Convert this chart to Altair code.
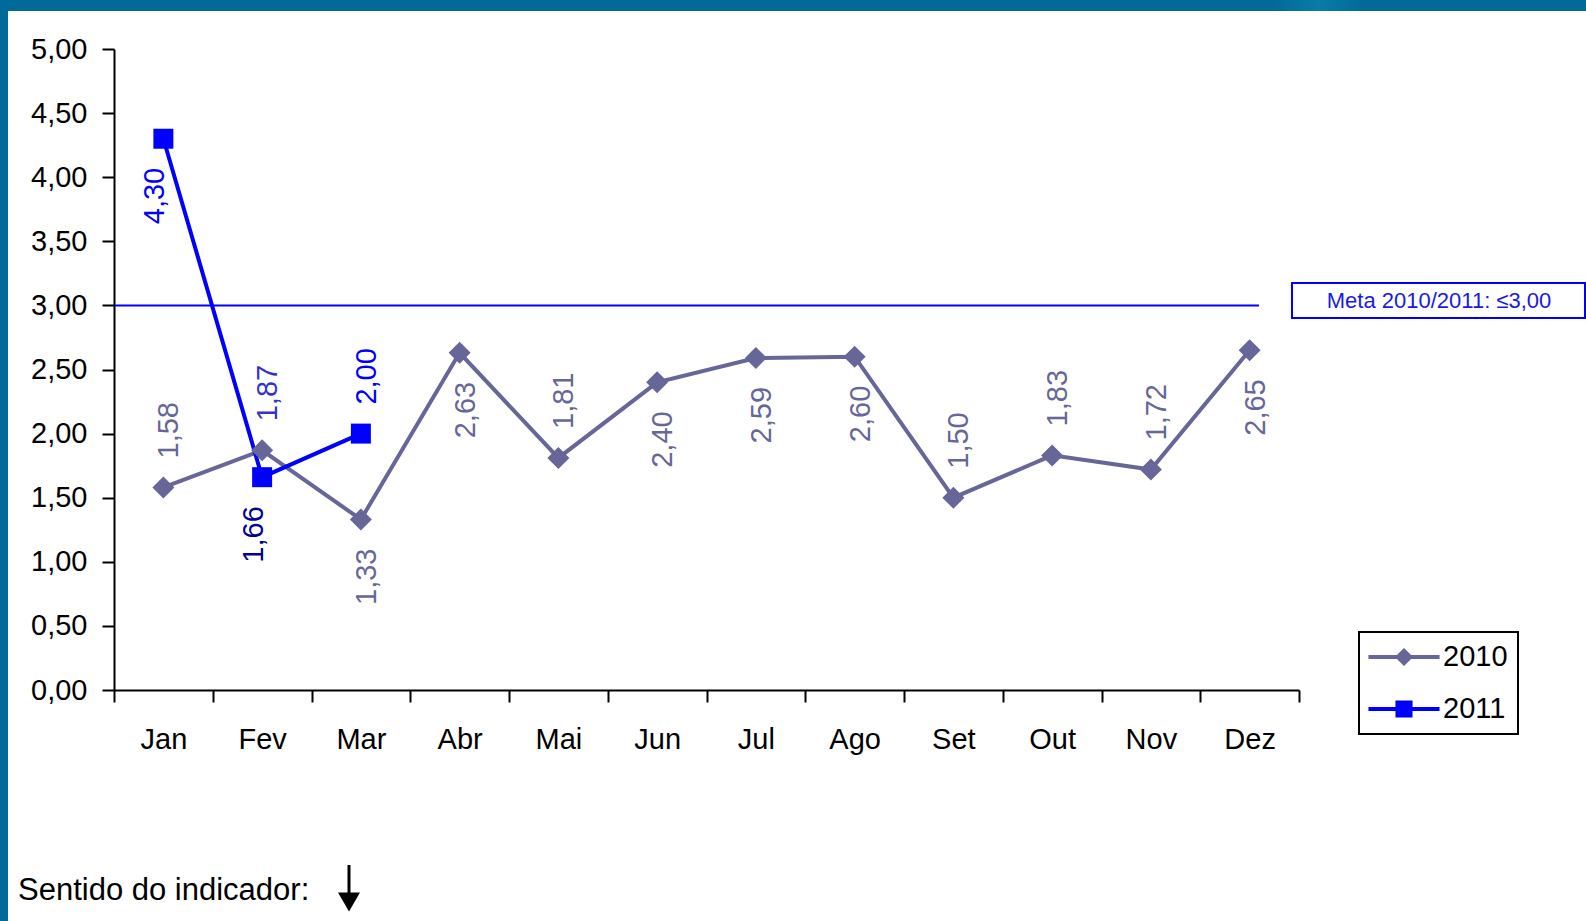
import altair as alt
import pandas as pd

# Monthly indicator values
MONTHS = ["Jan", "Fev", "Mar", "Abr", "Mai", "Jun", "Jul", "Ago", "Set", "Out", "Nov", "Dez"]
VALUES_2010 = [1.58, 1.87, 1.33, 2.63, 1.81, 2.40, 2.59, 2.60, 1.50, 1.83, 1.72, 2.65]
VALUES_2011 = [4.30, 1.66, 2.00]
META = 3.00
YEARS = ["2010", "2011"]

# Months whose value label sits under the point
LABEL_BELOW = {"2010": {"Mar", "Abr", "Jun", "Jul", "Ago", "Dez"}, "2011": {"Jan", "Fev"}}

C2010 = "#666699"
C2011 = "#0000ff"
FONT = "Liberation Sans"

W, H = 1185, 641
PAD = {"left": 114, "top": 49, "right": 287, "bottom": 231}


def fmt(v):
    return f"{v:.2f}".replace(".", ",")


rows = []
for year, vals in (("2010", VALUES_2010), ("2011", VALUES_2011)):
    for i, v in enumerate(vals):
        rows.append({"month": MONTHS[i], "pos": i + 0.5, "year": year, "value": v,
                     "label": fmt(v), "below": MONTHS[i] in LABEL_BELOW[year]})
df = pd.DataFrame(rows)

x_axis = alt.Axis(values=list(range(13)), labelExpr="['" + "','".join(MONTHS) + "'][datum.value] || ''",
                  labelOffset=W / 24, labelFont=FONT, labelFontSize=29, labelColor="black",
                  labelPadding=23, labelOverlap=False, labelBound=False, labelFlush=False,
                  tickSize=12, tickWidth=2, tickColor="black", domainColor="black", domainWidth=2,
                  grid=False, title=None)
y_axis = alt.Axis(values=[i / 2 for i in range(11)],
                  labelExpr="replace(format(datum.value, '.2f'), '.', ',')",
                  labelFont=FONT, labelFontSize=29, labelColor="black", labelPadding=15,
                  tickSize=12, tickWidth=2, tickColor="black", domainColor="black", domainWidth=2,
                  grid=False, title=None)

X = alt.X("pos:Q", scale=alt.Scale(domain=[0, 12], nice=False, zero=False), axis=x_axis)
Y = alt.Y("value:Q", scale=alt.Scale(domain=[0, 5], nice=False), axis=y_axis)

base = alt.Chart(df)
d10 = base.transform_filter("datum.year == '2010'")
d11 = base.transform_filter("datum.year == '2011'")

line10 = d10.mark_line(color=C2010, strokeWidth=4).encode(x=X, y=Y)
pts10 = d10.mark_point(shape="diamond", filled=True, size=484, color=C2010, opacity=1).encode(x=X, y=Y)
line11 = d11.mark_line(color=C2011, strokeWidth=4).encode(x=X, y=Y)
pts11 = d11.mark_point(shape="square", filled=True, size=400, color=C2011, opacity=1).encode(x=X, y=Y)

GAP = 29


def labels(src, color, fev_color, shift_above, shift_below):
    col = alt.condition("datum.month == 'Fev'", alt.value(fev_color), alt.value(color))
    above = src.transform_filter("!datum.below").mark_text(
        angle=270, align="left", baseline="middle", dx=GAP, dy=shift_above, font=FONT, fontSize=29
    ).encode(x=X, y=Y, text="label:N", color=col)
    below = src.transform_filter("datum.below").mark_text(
        angle=270, align="right", baseline="middle", dx=-GAP, dy=shift_below, font=FONT, fontSize=29
    ).encode(x=X, y=Y, text="label:N", color=col)
    return above + below


lab10 = labels(d10, C2010, "#3333cc", 6, 6)
lab11 = labels(d11, C2011, "#000099", 6, -8)

# Legend: line with marker drawn as one filled path per series
SYM10 = "M-2.37,-0.13H-0.47L0,-0.6L0.47,-0.13H2.37V0.13H0.47L0,0.6L-0.47,0.13H-2.37Z"
SYM11 = "M-2.37,-0.13H-0.57V-0.57H0.57V-0.13H2.37V0.13H0.57V0.57H-0.57V0.13H-2.37Z"
legend_layer = base.mark_point(filled=True, opacity=0).encode(
    x=X, y=Y,
    color=alt.Color("year:N", scale=alt.Scale(domain=YEARS, range=[C2010, C2011]),
                    legend=alt.Legend(title=None, orient="none", legendX=1245, legendY=583,
                                      symbolOpacity=1, symbolSize=900, symbolStrokeWidth=0,
                                      labelFont=FONT, labelFontSize=29, labelColor="black",
                                      labelOffset=24, symbolOffset=20, padding=10, rowPadding=22,
                                      strokeColor="black")),
    shape=alt.Shape("year:N", scale=alt.Scale(domain=YEARS, range=[SYM10, SYM11]), legend=None),
)

meta_df = pd.DataFrame({"value": [META], "text": ["Meta 2010/2011: \u2264" + fmt(META)]})
meta = alt.Chart(meta_df)
meta_rule = meta.mark_rule(color=C2011, strokeWidth=2).encode(y=Y, x=alt.value(0), x2=alt.value(1145))
meta_box = meta.mark_rect(fill="white", stroke=C2011, strokeWidth=2).encode(
    x=alt.value(1178), x2=alt.value(1471), y=alt.value(234), y2=alt.value(269))
meta_text = meta.mark_text(font=FONT, fontSize=22, color="#1a1ae6", align="center", baseline="middle").encode(
    x=alt.value(1325), y=alt.value(252), text="text:N")

# Frame bars along the top and left edges
frame = alt.Chart(pd.DataFrame({"k": [0]}))
top_bar = frame.mark_rect(color="#006a99").encode(
    x=alt.value(-PAD["left"]), x2=alt.value(W + PAD["right"]), y=alt.value(-PAD["top"]), y2=alt.value(-38))
top_glow = frame.mark_rect(color=alt.Gradient(
    gradient="linear", x1=0, x2=1, y1=0, y2=0,
    stops=[alt.GradientStop(color="#006a99", offset=0), alt.GradientStop(color="#0a7ca8", offset=0.5),
           alt.GradientStop(color="#006a99", offset=1)])).encode(
    x=alt.value(1160), x2=alt.value(1250), y=alt.value(-PAD["top"]), y2=alt.value(-38))
left_bar = frame.mark_rect(color="#006a99").encode(
    x=alt.value(-PAD["left"]), x2=alt.value(-106), y=alt.value(-PAD["top"]), y2=alt.value(H + PAD["bottom"]))

note = alt.Chart(pd.DataFrame({"t": ["Sentido do indicador:"]})).mark_text(
    font=FONT, fontSize=31, color="black", align="left", baseline="middle").encode(
    x=alt.value(-96), y=alt.value(842), text="t:N")
arrow_stem = frame.mark_rule(color="black", strokeWidth=3).encode(
    x=alt.value(235), y=alt.value(816), y2=alt.value(848))
arrow_head = frame.mark_point(shape="triangle-down", filled=True, size=484, color="black", opacity=1).encode(
    x=alt.value(235), y=alt.value(853))

chart = alt.layer(
    top_bar, top_glow, left_bar,
    meta_rule, meta_box, meta_text,
    line10, line11, pts10, pts11, lab10, lab11, legend_layer,
    note, arrow_stem, arrow_head,
).properties(
    width=W, height=H, padding=PAD, background="white",
    autosize=alt.AutoSizeParams(type="none"),
).configure_view(stroke=None).configure_legend(strokeWidth=2)

chart.save("out.html", embed_options={"renderer": "svg", "actions": False})
